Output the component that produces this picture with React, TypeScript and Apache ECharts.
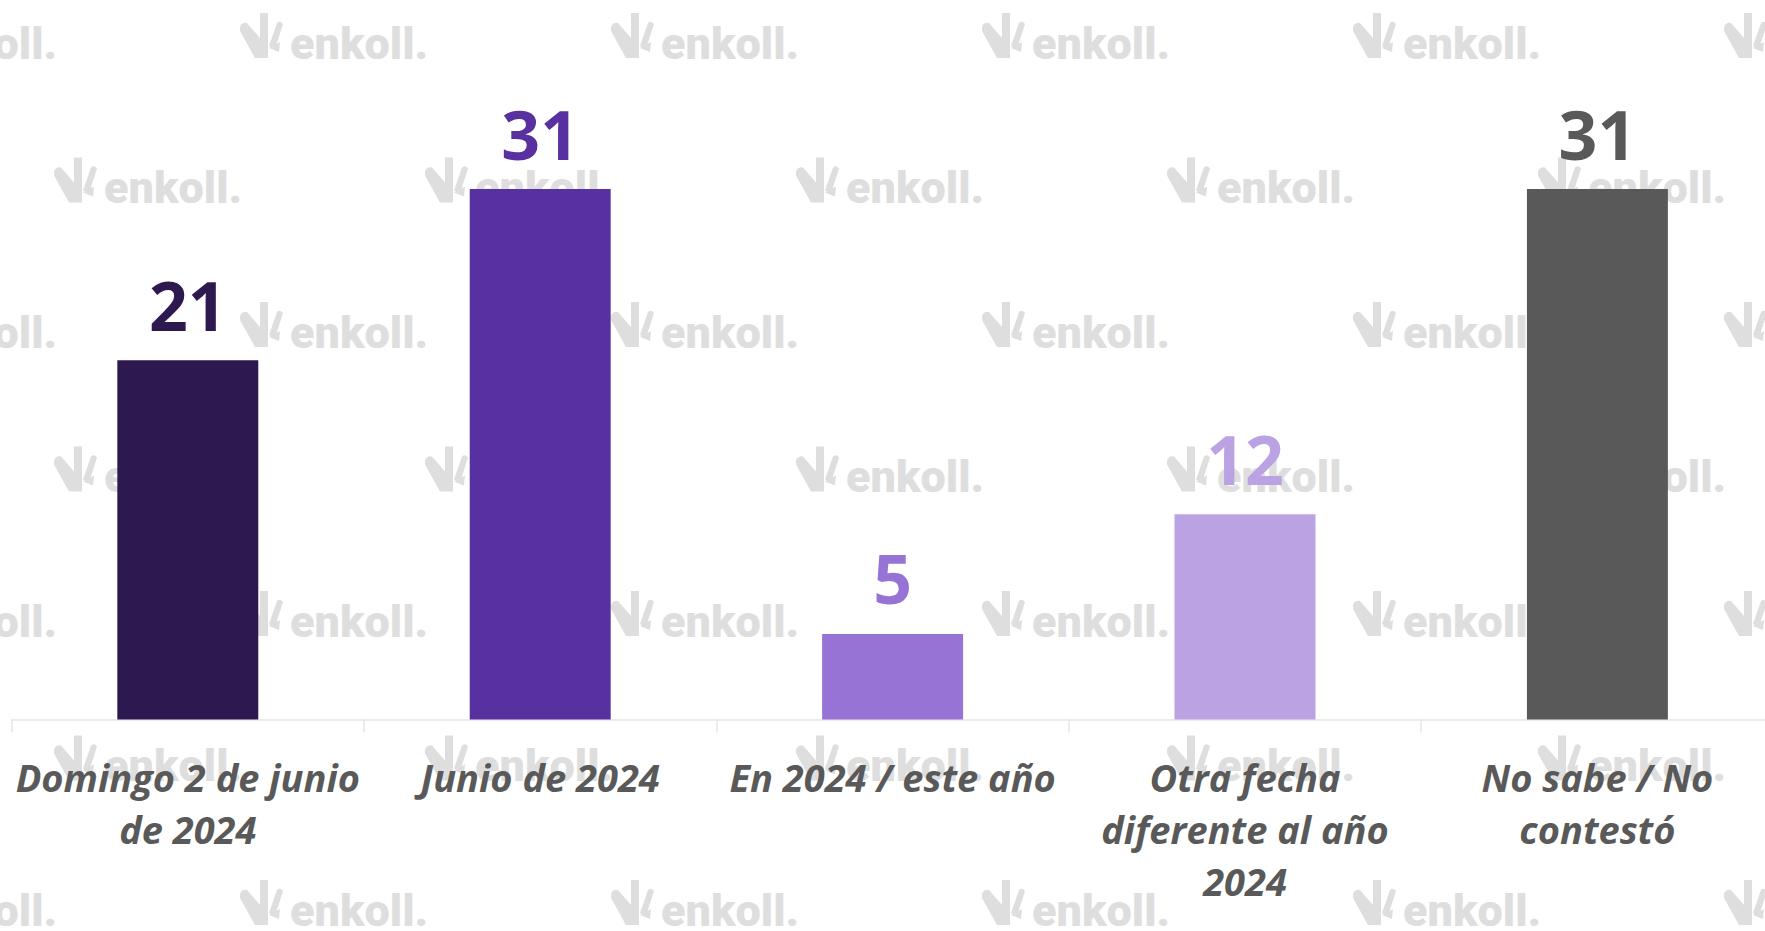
import React, { useEffect, useRef } from "react";
import * as echarts from "echarts";

// ---- data ----
const categories: string[] = [
  "Domingo 2 de junio\nde 2024",
  "Junio de 2024",
  "En 2024 / este año",
  "Otra fecha\ndiferente al año\n2024",
  "No sabe / No\ncontestó",
];
const values: number[] = [21, 31, 5, 12, 31];
const barColors: string[] = ["#2D1950", "#5830A0", "#9773D6", "#BBA2E2", "#595959"];
const watermarkText = "enkoll.";

// ---- watermark logo shape ----
const LOGO_D =
  "M-2,15 Q0,10 5,11 L18,26 L18,46 L13,46 L-2,19 Z " +
  "M18,1 L26,1 L26,46 L18,46 Z " +
  "M27,34 L35,11 Q38,8 41,12 L33,37 Z " +
  "M38,30 L37,40 L27,36 Z";
let registered = false;
function ensureLogo() {
  if (registered) return;
  echarts.graphic.registerShape("enkollLogo", echarts.graphic.extendPath(LOGO_D, {}) as any);
  registered = true;
}

function buildWatermarks() {
  const els: any[] = [];
  const color = "#DEDEDE";
  for (let k = 0; k < 7; k++) {
    const y = 12 + k * 144.5;
    const x0 = k % 2 === 0 ? 242 : 56;
    for (let x = x0 - 371; x < 1765; x += 371) {
      els.push({
        type: "group",
        x,
        y,
        silent: true,
        z: 0,
        children: [
          { type: "enkollLogo", x: 0, y: 0, style: { fill: color }, z: 0 },
          {
            type: "text",
            x: 48,
            y: 31,
            z: 0,
            style: {
              text: watermarkText,
              fontFamily: "Roboto",
              fontWeight: 900,
              fontSize: 45,
              fill: color,
              verticalAlign: "middle",
              align: "left",
            },
          },
        ],
      });
    }
  }
  return els;
}

export default function App() {
  const ref = useRef<HTMLDivElement>(null);
  useEffect(() => {
    if (!ref.current) return;
    ensureLogo();
    const chart = echarts.init(ref.current, undefined, { renderer: "svg" });
    chart.setOption({
      animation: false,
      backgroundColor: "#FFFFFF",
      graphic: { elements: buildWatermarks() },
      grid: {
        left: 11.6,
        top: 120.6,
        width: 1762,
        height: 598.9,
        containLabel: false,
        outerBoundsMode: "none",
      },
      xAxis: {
        type: "category",
        data: categories,
        axisLine: { show: true, lineStyle: { color: "#E6E6E6", width: 1.5 } },
        axisTick: { show: true, length: 13, lineStyle: { color: "#E6E6E6", width: 1.5 } },
        axisLabel: {
          interval: 0,
          margin: 31,
          color: "#595959",
          fontFamily: "Open Sans",
          fontStyle: "italic",
          fontWeight: "bold",
          fontSize: 38,
          lineHeight: 52,
          align: "center",
        },
      },
      yAxis: {
        type: "value",
        min: 0,
        max: 35,
        show: false,
        splitLine: { show: false },
      },
      series: [
        {
          type: "bar",
          z: 2,
          barWidth: "40%",
          data: values.map((v, i) => ({
            value: v,
            itemStyle: { color: barColors[i] },
            label: { color: barColors[i] },
          })),
          label: {
            show: true,
            position: "top",
            distance: 22,
            fontFamily: "Open Sans",
            fontWeight: "bold",
            fontSize: 68,
            lineHeight: 68,
          },
        },
      ],
    });
    return () => chart.dispose();
  }, []);
  return (
    <div
      ref={ref}
      style={{ position: "absolute", left: 0, top: 0, width: 1765, height: 931 }}
    />
  );
}
